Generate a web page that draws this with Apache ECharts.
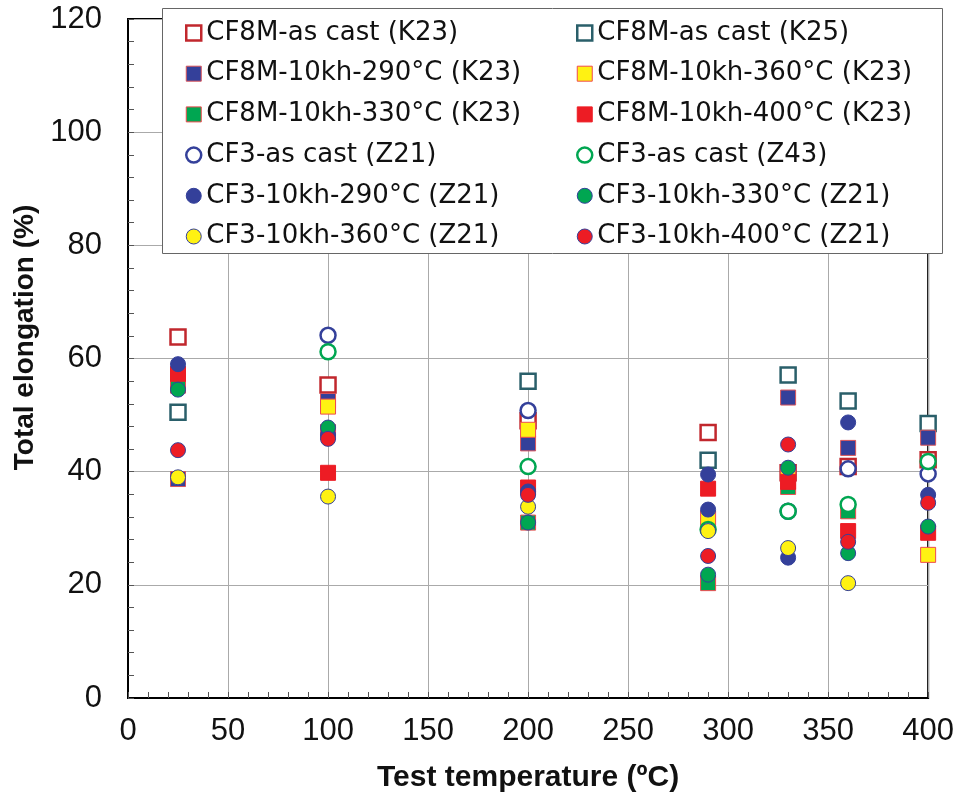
<!DOCTYPE html>
<html>
<head>
<meta charset="utf-8">
<script src="https://cdn.jsdelivr.net/npm/echarts@6/dist/echarts.min.js"></script>
<style>html,body{margin:0;padding:0;background:#fff}#chart{width:957px;height:800px}</style>
</head>
<body>
<div id="chart"></div>
<script>
// ---- Data (test temperature in °C, total elongation in %) ----
const xTicks = [0, 50, 100, 150, 200, 250, 300, 350, 400];
const yTicks = [0, 20, 40, 60, 80, 100, 120];

const seriesNames = [
  'CF8M-as cast (K23)', 'CF8M-as cast (K25)',
  'CF8M-10kh-290°C (K23)', 'CF8M-10kh-360°C (K23)',
  'CF8M-10kh-330°C (K23)', 'CF8M-10kh-400°C (K23)',
  'CF3-as cast (Z21)', 'CF3-as cast (Z43)',
  'CF3-10kh-290°C (Z21)', 'CF3-10kh-330°C (Z21)',
  'CF3-10kh-360°C (Z21)', 'CF3-10kh-400°C (Z21)'
];

const cf8mAsCastK23_T = [25, 100, 200, 290, 330, 360, 400];
const cf8mAsCastK23_E = [63.8, 55.3, 49.0, 46.9, 39.8, 40.9, 42.1];

const cf8mAsCastK25_T = [25, 200, 290, 330, 360, 400];
const cf8mAsCastK25_E = [50.5, 56.0, 42.0, 57.1, 52.5, 48.5];

const cf8m290_T = [25, 100, 200, 330, 360, 400];
const cf8m290_E = [38.7, 52.5, 45.0, 53.1, 44.2, 46.0];

const cf8m360_T = [100, 200, 290, 330, 400];
const cf8m360_E = [51.5, 47.4, 31.8, 39.5, 25.3];

const cf8m330_T = [25, 100, 200, 290, 330, 360];
const cf8m330_E = [55.2, 47.0, 31.0, 20.3, 37.3, 33.0];

const cf8m400_T = [25, 100, 200, 290, 330, 360, 400];
const cf8m400_E = [57.3, 39.8, 37.2, 37.0, 38.2, 29.5, 29.2];

const cf3AsCastZ21_T = [100, 200, 330, 360, 400];
const cf3AsCastZ21_E = [64.1, 50.8, 33.0, 40.5, 39.6];

const cf3AsCastZ43_T = [100, 200, 290, 330, 360, 400];
const cf3AsCastZ43_E = [61.2, 40.9, 29.8, 33.0, 34.2, 41.8];

const cf3_290_T = [25, 100, 200, 290, 290, 330, 360, 400];
const cf3_290_E = [59.0, 46.5, 36.5, 39.5, 33.3, 24.8, 48.7, 35.9];

const cf3_330_T = [25, 100, 200, 290, 330, 360, 400];
const cf3_330_E = [54.5, 47.8, 31.0, 21.8, 40.7, 25.6, 30.3];

const cf3_360_T = [25, 100, 200, 290, 330, 360];
const cf3_360_E = [39.0, 35.6, 33.8, 29.5, 26.5, 20.3];

const cf3_400_T = [25, 100, 200, 290, 330, 360, 400];
const cf3_400_E = [43.8, 45.8, 35.9, 25.1, 44.8, 27.6, 34.5];

// ---- Styles ----
const C = {
  darkRed: '#c1272d', teal: '#2a5f6a', blue: '#34409a',
  yellow: '#fff212', green: '#00a651', red: '#ed1c24'
};
function pairs(T, E) { return T.map((t, i) => [t, E[i]]); }

const seriesDefs = [
  { d: pairs(cf8mAsCastK23_T, cf8mAsCastK23_E), sym: 'rect', fill: '#fff', stroke: C.darkRed, bw: 2.5 },
  { d: pairs(cf8mAsCastK25_T, cf8mAsCastK25_E), sym: 'rect', fill: '#fff', stroke: C.teal, bw: 2.5 },
  { d: pairs(cf8m290_T, cf8m290_E), sym: 'rect', fill: C.blue, stroke: '#d9545a', bw: 1 },
  { d: pairs(cf8m360_T, cf8m360_E), sym: 'rect', fill: C.yellow, stroke: '#ef4a4f', bw: 1 },
  { d: pairs(cf8m330_T, cf8m330_E), sym: 'rect', fill: C.green, stroke: '#ef4a4f', bw: 1 },
  { d: pairs(cf8m400_T, cf8m400_E), sym: 'rect', fill: C.red, stroke: C.red, bw: 1 },
  { d: pairs(cf3AsCastZ21_T, cf3AsCastZ21_E), sym: 'circle', fill: '#fff', stroke: C.blue, bw: 2.5 },
  { d: pairs(cf3AsCastZ43_T, cf3AsCastZ43_E), sym: 'circle', fill: '#fff', stroke: C.green, bw: 2.5 },
  { d: pairs(cf3_290_T, cf3_290_E), sym: 'circle', fill: C.blue, stroke: C.blue, bw: 1 },
  { d: pairs(cf3_330_T, cf3_330_E), sym: 'circle', fill: C.green, stroke: C.blue, bw: 1 },
  { d: pairs(cf3_360_T, cf3_360_E), sym: 'circle', fill: C.yellow, stroke: C.blue, bw: 1 },
  { d: pairs(cf3_400_T, cf3_400_E), sym: 'circle', fill: C.red, stroke: C.blue, bw: 1 }
];

const series = seriesDefs.map((s, i) => ({
  name: seriesNames[i],
  type: 'scatter',
  symbol: s.sym,
  symbolSize: 15,
  data: s.d,
  itemStyle: { color: s.fill, borderColor: s.stroke, borderWidth: s.bw, opacity: 1 },
  emphasis: { disabled: true },
  z: 2
}));

const chart = echarts.init(document.getElementById('chart'), null, { renderer: 'canvas' });

const legendText = { fontFamily: 'DejaVu Sans', fontSize: 26, color: '#111', lineHeight: 26 };
const legendCommon = {
  orient: 'vertical', top: 15, itemWidth: 15, itemHeight: 15, itemGap: 14.7,
  textStyle: legendText, selectedMode: false, z: 5,
  itemStyle: { borderWidth: 'inherit' }
};

chart.setOption({
  animation: false,
  backgroundColor: '#fff',
  grid: { left: 128, top: 19, right: 28, bottom: 102, show: true, borderColor: '#000', borderWidth: 2, backgroundColor: 'transparent' },
  graphic: [{
    type: 'rect', z: 4,
    shape: { x: 162.5, y: 8.5, width: 780, height: 245 },
    style: { fill: '#fff', stroke: '#666', lineWidth: 1 }
  }],
  legend: [
    Object.assign({}, legendCommon, { left: 180, data: seriesNames.filter((n, i) => i % 2 === 0) }),
    Object.assign({}, legendCommon, { left: 571, data: seriesNames.filter((n, i) => i % 2 === 1) })
  ],
  xAxis: {
    type: 'value', min: xTicks[0], max: xTicks[xTicks.length - 1], interval: 50,
    name: 'Test temperature (ºC)', nameLocation: 'middle', nameGap: 65,
    nameTextStyle: { fontFamily: 'Liberation Sans', fontWeight: 'bold', fontSize: 30, color: '#111' },
    axisLine: { show: true, lineStyle: { color: '#000', width: 2 } },
    axisTick: { show: true, inside: true, length: 6, lineStyle: { color: '#555' } },
    minorTick: { show: true, splitNumber: 5, length: 6, lineStyle: { color: '#555' } },
    splitLine: { show: true, lineStyle: { color: '#aaa', width: 1 } },
    axisLabel: { fontFamily: 'Liberation Sans', fontSize: 31, color: '#111', margin: 18 }
  },
  yAxis: {
    type: 'value', min: yTicks[0], max: yTicks[yTicks.length - 1], interval: 20,
    name: 'Total elongation (%)', nameLocation: 'middle', nameGap: 88,
    nameTextStyle: { fontFamily: 'Liberation Sans', fontWeight: 'bold', fontSize: 28, color: '#111', padding: [0, 0, 0, 42] },
    axisLine: { show: true, lineStyle: { color: '#000', width: 2 } },
    axisTick: { show: true, inside: true, length: 6, lineStyle: { color: '#555' } },
    minorTick: { show: true, splitNumber: 5, length: 6, lineStyle: { color: '#555' } },
    splitLine: { show: true, lineStyle: { color: '#aaa', width: 1 } },
    axisLabel: { fontFamily: 'Liberation Sans', fontSize: 31, color: '#111', margin: 26 }
  },
  series: series
});
</script>
</body>
</html>
